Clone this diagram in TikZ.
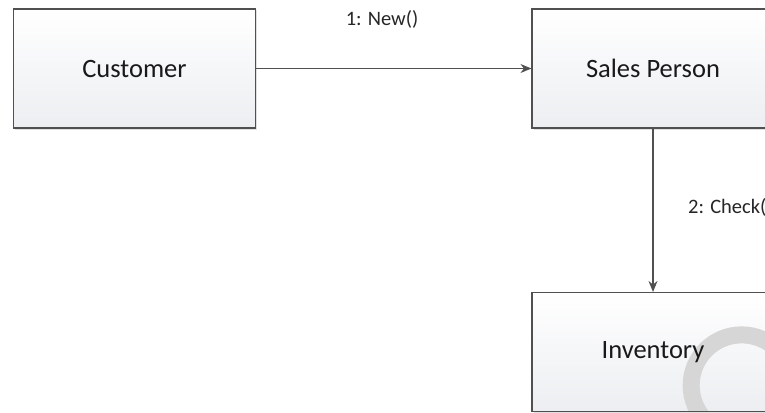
\documentclass[tikz,border=0pt]{standalone}
\usepackage{fontspec}
\setmainfont{Carlito}
\usetikzlibrary{arrows.meta,shadows}
\definecolor{edge}{HTML}{505050}
\definecolor{boxbottom}{HTML}{ECEEF1}
\definecolor{ring}{HTML}{D6D6D6}
\tikzset{
  objbox/.style={draw=edge, line width=1.1pt, minimum width=242pt, minimum height=119pt,
    top color=white, bottom color=boxbottom, inner sep=0pt,
    drop shadow={shadow xshift=1.5pt, shadow yshift=-1.5pt, fill=black, opacity=0.12},
    font=\fontsize{26.5}{30}\selectfont, text=black!90},
  msg/.style={draw=edge, line width=1.1pt, -{Stealth[length=11pt,width=9pt]}},
  msglabel/.style={font=\fontsize{20.5}{24}\selectfont, text=black!85, inner sep=0pt}
}
\begin{document}
\begin{tikzpicture}[x=1pt,y=-1pt]
  \useasboundingbox (0,0) rectangle (765,412);
  \clip (0,0) rectangle (765,412);
  \fill[white] (0,0) rectangle (765,412);

  % collaboration objects
  \node[objbox] (customer) at (134.5,68.5) {Customer};
  \node[objbox] (sales) at (653,68.5) {Sales Person};
  % busy ring sits over the box fill, under its text
  \node[objbox, path picture={\draw[ring, line width=17pt,
      shift={(path picture bounding box.center)}] (140,27) circle[radius=50.5];}]
    (inventory) at (653,352) {Inventory};

  % messages
  \draw[msg] (customer.east) -- (sales.west);
  \node[msglabel] (newlbl) at (382,19) {1: New()};
  \draw[msg] (sales.south) -- (inventory.north);
  \node[msglabel, anchor=west] (checklbl) at (688,207) {2: Check(};
\end{tikzpicture}
\end{document}
